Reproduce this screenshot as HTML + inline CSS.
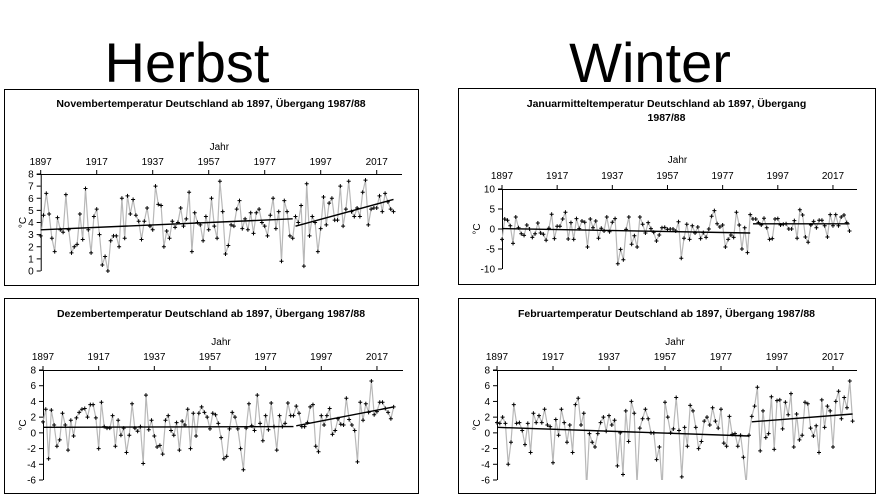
<!DOCTYPE html>
<html><head><meta charset="utf-8">
<style>
body{margin:0;background:#fff;width:879px;height:498px;overflow:hidden;font-family:"Liberation Sans",Arial,sans-serif}
svg{position:absolute;left:0;top:0}
</style></head>
<body>
<svg id="s" width="879" height="498">
<text x="187" y="82" font-size="56" text-anchor="middle" font-family="Liberation Sans, sans-serif">Herbst</text>
<text x="650" y="82" font-size="56" text-anchor="middle" font-family="Liberation Sans, sans-serif">Winter</text>
</svg>
<script>
const startYear = 1897;
const yearTicks = [1897, 1917, 1937, 1957, 1977, 1997, 2017];
const novA = [2.9,4.6,6.4,4.7,2.7,1.6,4.4,3.4,3.2,6.3,3.4,1.5,2.0,2.2,4.7,2.6,6.8,3.4,1.5,4.5,5.1,3.0,0.5,1.2,0.0,2.5,2.9,2.9,2.0,6.0,2.7,6.2,4.7,5.9,4.6,4.1,2.6,4.1,5.2,3.7,3.4,7.0,5.5,5.4,2.0,3.3,2.7,4.1,3.6,4.0,5.2,3.7,4.3,6.5,1.6,4.8,4.0,3.8,2.5,4.5,3.4,6.0,3.7,2.7,7.4,4.9,1.4,2.1,3.8,3.7,5.1,5.8,3.5,4.3,3.4,4.8,3.1,4.8,5.1,4.0,3.7,2.9,4.6,6.0,3.5,4.9,0.8,5.8,4.9,2.9,2.7];
const novB = [4.5,4.0,5.4,0.4,7.2,2.9,4.5,4.0,1.6,3.5,6.1,3.8,5.6,6.0,4.2,4.2,7.0,3.7,5.1,7.4,4.9,4.5,5.2,4.5,6.5,7.5,3.8,5.1,5.2,5.2,6.2,4.9,6.4,5.7,5.1,4.9];
const novTrend = [3.4, 4.3, 3.7, 5.9];
const janA = [-2.6,2.5,2.2,0.8,-3.6,3.0,0.3,-1.2,-1.6,1.0,0.0,-2.1,-1.2,1.5,-1.0,-1.3,-2.8,0.2,3.7,-2.4,0.7,0.7,2.5,4.2,-2.5,1.6,-2.6,2.6,0.1,2.0,1.7,-4.5,2.5,0.3,2.0,-2.3,0.2,-0.5,3.0,-0.7,1.7,2.6,-8.7,-5.1,-7.7,-0.1,3.0,-3.8,-1.7,-4.5,3.0,1.2,-1.0,1.6,0.1,-0.8,-3.0,-1.5,0.3,0.4,-0.1,0.0,0.0,-0.5,1.8,-7.3,-2.3,1.2,-2.6,0.8,-1.0,0.5,-2.4,-0.9,-2.1,0.0,3.2,4.6,1.3,0.5,1.0,-4.5,-2.6,-1.5,-2.1,4.2,1.0,-5.0,0.3,-5.9,3.6];
const janB = [2.5,2.5,1.6,1.0,2.7,0.3,-2.6,-2.4,2.5,2.6,1.0,1.2,1.3,0.0,0.0,2.1,-2.3,4.8,3.5,-2.0,-3.3,1.0,1.9,0.3,2.2,2.2,0.8,-2.0,3.6,0.8,3.6,0.8,3.0,3.5,1.6,-0.5];
const janTrend = [0.1, -1.0, 1.3, 1.3];
const decA = [1.4,3.0,-3.3,2.9,1.0,-1.7,-0.9,2.5,1.0,-2.2,1.6,-0.4,1.9,2.6,3.0,3.1,2.0,3.6,3.6,1.9,-2.0,3.9,0.8,0.6,0.6,2.2,-1.7,1.6,-0.3,0.6,-2.5,-0.3,3.7,0.6,0.2,0.8,-3.9,4.8,0.4,1.6,-0.4,-1.8,-1.6,-2.7,1.6,2.2,0.3,-0.3,1.3,-2.2,1.5,1.0,3.0,-2.0,2.5,-0.4,2.5,3.3,2.6,2.0,0.5,2.5,2.3,1.2,-0.6,-3.3,-3.0,0.5,2.6,2.0,0.5,-2.0,-4.7,0.6,3.7,0.9,0.3,4.8,1.2,-1.0,2.2,0.4,3.8,0.8,-2.2,2.2,0.8,1.2,3.8,2.2,2.2];
const decB = [3.4,2.5,0.8,0.8,1.3,3.3,3.6,-1.7,-2.4,2.2,1.0,2.2,3.1,-0.2,0.3,1.8,1.1,1.0,4.4,1.7,1.0,0.3,-3.7,3.9,1.6,3.7,2.6,6.6,2.3,2.7,3.9,3.9,3.1,2.6,1.8,3.3];
const decTrend = [0.7, 0.8, 0.9, 3.3];
const febA = [1.3,1.2,2.0,1.2,-4.0,-1.2,3.6,1.2,1.3,0.3,-1.5,1.2,-2.5,2.5,1.3,2.2,1.3,3.0,1.0,0.8,-3.8,1.7,-0.3,3.0,1.3,-1.2,1.0,-2.5,3.6,4.4,1.0,2.5,-7.0,-0.1,-1.2,-1.8,-0.1,1.3,2.0,0.2,2.2,1.0,1.6,-4.2,0.0,-5.3,2.8,-1.1,4.0,2.5,-6.5,0.6,1.8,3.0,1.8,0.0,0.0,-3.4,-1.8,-7.0,3.9,2.0,0.0,0.5,4.5,0.3,-5.6,0.7,-1.7,3.5,2.8,0.7,-2.0,-1.1,1.5,2.0,1.0,3.2,1.5,0.6,3.0,-1.3,-1.7,2.1,-0.2,-0.1,-1.7,-0.3,-3.1,-6.5,-0.3];
const febB = [2.1,3.4,5.8,-2.3,2.8,-0.6,-0.1,4.6,-2.1,4.1,4.2,0.5,3.9,2.3,5.0,-1.8,2.4,-0.9,-0.3,3.9,3.7,0.6,-0.4,0.9,-2.5,4.2,0.7,3.4,2.8,-1.8,4.0,5.3,1.8,4.5,3.2,6.6,1.5];
const febTrend = [0.7, -0.4, 1.4, 2.4];
const novYTicks = [0,1,2,3,4,5,6,7,8];
const janYTicks = [-10,-5,0,5,10];
const winYTicks = [-6,-4,-2,0,2,4,6,8];

const NS = "http://www.w3.org/2000/svg";
const svg = document.getElementById('s');
function mk(tag, attrs, parent, txt){
  const e = document.createElementNS(NS, tag);
  for (const k in attrs) e.setAttribute(k, attrs[k]);
  if (txt !== undefined) e.textContent = txt;
  (parent || svg).appendChild(e);
  return e;
}
function chart(c){
  const g = mk('g', {});
  
  
  const box = mk('rect', {x:c.box[0]+0.5, y:c.box[1]+0.5, width:c.box[2]-c.box[0], height:c.box[3]-c.box[1], fill:'none', stroke:'#000'}, g);
  
  
  const X = yr => c.x0 + (yr - startYear) * c.pxYr;
  const Y = v => c.yTop + (c.yMax - v) / (c.yMax - c.yMin) * (c.yBot - c.yTop);
  c.title.forEach((t, i) => {
    const tt = mk('text', {x:(c.box[0]+c.box[2])/2, y:c.titleY + i*14, 'font-size':10.5, 'font-weight':'bold', 'text-anchor':'middle'}, g, t);
    
    
  });
  const jt = mk('text', {x:(c.x0 + c.xRight)/2 - 2, y:c.jahrY, 'font-size':10, 'text-anchor':'middle'}, g, 'Jahr');
  
  
  const yt = mk('text', {x:0, y:0, 'font-size':10, 'text-anchor':'middle', transform:`translate(${c.box[0]+22},${(c.yTop+c.yBot)/2}) rotate(-90)`}, g, '°C');
  
  
  mk('line', {x1:c.x0-4, y1:c.yTop+0.5, x2:c.xRight, y2:c.yTop+0.5, stroke:'#000'}, g);
  mk('line', {x1:c.x0+0.5, y1:c.yTop, x2:c.x0+0.5, y2:c.yBot, stroke:'#000'}, g);
  yearTicks.forEach(yr => {
    const x = X(yr);
    mk('line', {x1:x, y1:c.yTop, x2:x, y2:c.yTop-4, stroke:'#000'}, g);
    const t = mk('text', {x:x, y:c.tickY, 'font-size':10, 'text-anchor':'middle'}, g, yr);
    
    
  });
  c.yTicks.forEach(v => {
    const y = Y(v);
    mk('line', {x1:c.x0-4, y1:y, x2:c.x0, y2:y, stroke:'#000'}, g);
    const t = mk('text', {x:c.x0-7, y:y+3.5, 'font-size':10, 'text-anchor':'end'}, g, v);
    
    
  });
  const clipId = 'c' + c.name;
  const cp = mk('clipPath', {id:clipId}, g);
  mk('rect', {x:c.x0, y:c.yTop, width:c.xRight-c.x0, height:c.yBot-c.yTop}, cp);
  const all = c.a.concat(c.b);
  const pts = all.map((v, i) => `${X(startYear+i).toFixed(1)},${Y(v).toFixed(1)}`).join(' ');
  const pl = mk('polyline', {points:pts, fill:'none', stroke:'#b8b8b8', 'stroke-width':1.2, 'clip-path':`url(#${clipId})`}, g);
  
  
  all.forEach((v, i) => {
    if (v < c.yMin) return;
    const x = X(startYear+i), y = Y(v);
    const m = mk('path', {d:`M${x-2},${y}H${x+2}M${x},${y-2}V${y+2}`, stroke:'#000', 'stroke-width':1}, g);
    
    
  });
  const endA = startYear + c.a.length - 1, startB = startYear + c.a.length, endB = startYear + all.length - 1;
  const t1 = mk('line', {x1:X(startYear), y1:Y(c.trend[0]), x2:X(endA), y2:Y(c.trend[1]), stroke:'#000', 'stroke-width':1.4}, g);
  
  
  const t2 = mk('line', {x1:X(startB), y1:Y(c.trend[2]), x2:X(endB), y2:Y(c.trend[3]), stroke:'#000', 'stroke-width':1.4}, g);
  
  
}
chart({name:'november-chart', box:[4,89,418,285], title:['Novembertemperatur Deutschland ab 1897, Übergang 1987/88'], titleY:107, jahrY:150, tickY:165,
  x0:40.7, pxYr:2.8, xRight:402, yTop:174, yBot:271, yMin:0, yMax:8, yTicks:novYTicks, a:novA, b:novB, trend:novTrend});
chart({name:'januar-chart', box:[458,88,875,284], title:['Januarmitteltemperatur Deutschland ab 1897, Übergang','1987/88'], titleY:107, jahrY:163, tickY:179,
  x0:502, pxYr:2.758, xRight:857, yTop:189, yBot:269, yMin:-10, yMax:10, yTicks:janYTicks, a:janA, b:janB, trend:janTrend});
chart({name:'dezember-chart', box:[4,298,418,493], title:['Dezembertemperatur Deutschland ab 1897, Übergang 1987/88'], titleY:317, jahrY:345, tickY:360,
  x0:43, pxYr:2.783, xRight:403, yTop:370, yBot:480, yMin:-6, yMax:8, yTicks:winYTicks, a:decA, b:decB, trend:decTrend});
chart({name:'februar-chart', box:[458,298,875,493], title:['Februartemperatur Deutschland ab 1897, Übergang 1987/88'], titleY:317, jahrY:345, tickY:360,
  x0:497, pxYr:2.8, xRight:857, yTop:370, yBot:480, yMin:-6, yMax:8, yTicks:winYTicks, a:febA, b:febB, trend:febTrend});
</script>
</body></html>
